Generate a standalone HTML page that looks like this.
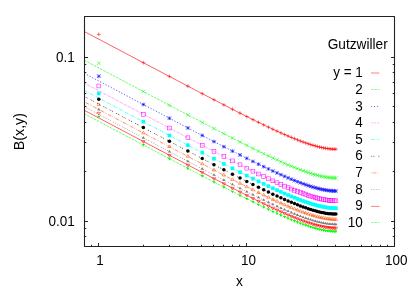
<!DOCTYPE html>
<html><head><meta charset="utf-8"><title>Gutzwiller B(x,y)</title>
<style>html,body{margin:0;padding:0;background:#fff;overflow:hidden}body{width:415px;height:291px;position:relative;font-family:"Liberation Sans",sans-serif}</style></head>
<body>
<svg width="415" height="291" viewBox="0 0 415 291" style="position:absolute;left:0;top:0">
<rect width="415" height="291" fill="#fff"/>
<g><path d="M96.90 34.38H100.70M98.80 32.48V36.28" stroke="#ff0000" stroke-width="0.55" fill="none"/><path d="M141.45 62.71H145.25M143.35 60.81V64.61" stroke="#ff0000" stroke-width="0.55" fill="none"/><path d="M167.51 76.44H171.31M169.41 74.54V78.34" stroke="#ff0000" stroke-width="0.55" fill="none"/><path d="M186.00 86.16H189.80M187.90 84.26V88.06" stroke="#ff0000" stroke-width="0.55" fill="none"/><path d="M200.35 93.66H204.15M202.25 91.76V95.56" stroke="#ff0000" stroke-width="0.55" fill="none"/><path d="M212.07 99.76H215.87M213.97 97.86V101.66" stroke="#ff0000" stroke-width="0.55" fill="none"/><path d="M221.97 104.89H225.77M223.87 102.99V106.79" stroke="#ff0000" stroke-width="0.55" fill="none"/><path d="M230.56 109.29H234.36M232.46 107.39V111.19" stroke="#ff0000" stroke-width="0.55" fill="none"/><path d="M238.13 113.15H241.93M240.03 111.25V115.05" stroke="#ff0000" stroke-width="0.55" fill="none"/><path d="M244.90 116.56H248.70M246.80 114.66V118.46" stroke="#ff0000" stroke-width="0.55" fill="none"/><path d="M251.03 119.61H254.83M252.93 117.71V121.51" stroke="#ff0000" stroke-width="0.55" fill="none"/><path d="M256.62 122.37H260.42M258.52 120.47V124.27" stroke="#ff0000" stroke-width="0.55" fill="none"/><path d="M261.76 124.87H265.56M263.66 122.97V126.77" stroke="#ff0000" stroke-width="0.55" fill="none"/><path d="M266.53 127.14H270.33M268.43 125.24V129.04" stroke="#ff0000" stroke-width="0.55" fill="none"/><path d="M270.96 129.23H274.76M272.86 127.33V131.13" stroke="#ff0000" stroke-width="0.55" fill="none"/><path d="M275.11 131.14H278.91M277.01 129.24V133.04" stroke="#ff0000" stroke-width="0.55" fill="none"/><path d="M279.01 132.91H282.81M280.91 131.01V134.81" stroke="#ff0000" stroke-width="0.55" fill="none"/><path d="M282.68 134.54H286.48M284.58 132.64V136.44" stroke="#ff0000" stroke-width="0.55" fill="none"/><path d="M286.16 136.04H289.96M288.06 134.14V137.94" stroke="#ff0000" stroke-width="0.55" fill="none"/><path d="M289.45 137.43H293.25M291.35 135.53V139.33" stroke="#ff0000" stroke-width="0.55" fill="none"/><path d="M292.59 138.71H296.39M294.49 136.81V140.61" stroke="#ff0000" stroke-width="0.55" fill="none"/><path d="M295.58 139.90H299.38M297.48 138.00V141.80" stroke="#ff0000" stroke-width="0.55" fill="none"/><path d="M298.44 140.99H302.24M300.34 139.09V142.89" stroke="#ff0000" stroke-width="0.55" fill="none"/><path d="M301.17 142.00H304.97M303.07 140.10V143.90" stroke="#ff0000" stroke-width="0.55" fill="none"/><path d="M303.80 142.93H307.60M305.70 141.03V144.83" stroke="#ff0000" stroke-width="0.55" fill="none"/><path d="M306.32 143.79H310.12M308.22 141.89V145.69" stroke="#ff0000" stroke-width="0.55" fill="none"/><path d="M308.74 144.57H312.54M310.64 142.67V146.47" stroke="#ff0000" stroke-width="0.55" fill="none"/><path d="M311.08 145.28H314.88M312.98 143.38V147.18" stroke="#ff0000" stroke-width="0.55" fill="none"/><path d="M313.33 145.93H317.13M315.23 144.03V147.83" stroke="#ff0000" stroke-width="0.55" fill="none"/><path d="M315.51 146.51H319.31M317.41 144.61V148.41" stroke="#ff0000" stroke-width="0.55" fill="none"/><path d="M317.62 147.04H321.42M319.52 145.14V148.94" stroke="#ff0000" stroke-width="0.55" fill="none"/><path d="M319.66 147.50H323.46M321.56 145.60V149.40" stroke="#ff0000" stroke-width="0.55" fill="none"/><path d="M321.64 147.90H325.44M323.54 146.00V149.80" stroke="#ff0000" stroke-width="0.55" fill="none"/><path d="M323.56 148.25H327.36M325.46 146.35V150.15" stroke="#ff0000" stroke-width="0.55" fill="none"/><path d="M325.42 148.54H329.22M327.32 146.64V150.44" stroke="#ff0000" stroke-width="0.55" fill="none"/><path d="M327.23 148.78H331.03M329.13 146.88V150.68" stroke="#ff0000" stroke-width="0.55" fill="none"/><path d="M328.99 148.97H332.79M330.89 147.07V150.87" stroke="#ff0000" stroke-width="0.55" fill="none"/><path d="M330.71 149.10H334.51M332.61 147.20V151.00" stroke="#ff0000" stroke-width="0.55" fill="none"/><path d="M332.38 149.18H336.18M334.28 147.28V151.08" stroke="#ff0000" stroke-width="0.55" fill="none"/><path d="M334.00 149.20H337.80M335.90 147.30V151.10" stroke="#ff0000" stroke-width="0.55" fill="none"/></g>
<polyline points="84.16,31.60 86.55,32.71 88.65,33.81 90.74,34.92 92.84,36.03 94.93,37.14 97.03,38.24 99.13,39.35 101.22,40.46 103.32,41.57 105.41,42.67 107.51,43.78 109.60,44.89 111.70,45.99 113.79,47.10 115.89,48.21 117.98,49.32 120.08,50.42 122.17,51.53 124.27,52.64 126.37,53.74 128.46,54.85 130.56,55.96 132.65,57.06 134.75,58.17 136.84,59.27 138.94,60.38 141.03,61.49 143.13,62.59 145.22,63.70 147.32,64.80 149.41,65.91 151.51,67.01 153.61,68.12 155.70,69.22 157.80,70.33 159.89,71.43 161.99,72.53 164.08,73.64 166.18,74.74 168.27,75.84 170.37,76.95 172.46,78.05 174.56,79.15 176.65,80.25 178.75,81.35 180.85,82.46 182.94,83.56 185.04,84.66 187.13,85.75 189.23,86.85 191.32,87.95 193.42,89.05 195.51,90.15 197.61,91.24 199.70,92.34 201.80,93.43 203.89,94.52 205.99,95.62 208.09,96.71 210.18,97.80 212.28,98.89 214.37,99.97 216.47,101.06 218.56,102.15 220.66,103.23 222.75,104.31 224.85,105.39 226.94,106.47 229.04,107.54 231.14,108.62 233.23,109.69 235.33,110.76 237.42,111.83 239.52,112.89 241.61,113.95 243.71,115.01 245.80,116.06 247.90,117.11 249.99,118.16 252.09,119.20 254.18,120.24 256.28,121.27 258.38,122.30 260.47,123.32 262.57,124.34 264.66,125.35 266.76,126.35 268.85,127.35 270.95,128.33 273.04,129.31 275.14,130.29 277.23,131.25 279.33,132.20 281.42,133.14 283.52,134.07 285.62,134.99 287.71,135.89 289.81,136.78 291.90,137.65 294.00,138.51 296.09,139.35 298.19,140.17 300.28,140.97 302.38,141.75 304.47,142.50 306.57,143.23 308.66,143.93 310.76,144.61 312.86,145.25 314.95,145.85 317.05,146.42 319.14,146.94 321.24,147.43 323.33,147.86 325.43,148.25 327.52,148.57 329.62,148.84 331.71,149.04 333.81,149.16 335.90,149.20" fill="none" stroke="#ff0000" stroke-width="0.65"/>
<g><path d="M97.00 61.38L100.60 64.98M97.00 64.98L100.60 61.38" stroke="#00ff00" stroke-width="0.55" fill="none"/><path d="M141.55 89.71L145.15 93.31M141.55 93.31L145.15 89.71" stroke="#00ff00" stroke-width="0.55" fill="none"/><path d="M167.61 103.44L171.21 107.04M167.61 107.04L171.21 103.44" stroke="#00ff00" stroke-width="0.55" fill="none"/><path d="M186.10 113.16L189.70 116.76M186.10 116.76L189.70 113.16" stroke="#00ff00" stroke-width="0.55" fill="none"/><path d="M200.45 120.66L204.05 124.26M200.45 124.26L204.05 120.66" stroke="#00ff00" stroke-width="0.55" fill="none"/><path d="M212.17 126.76L215.77 130.36M212.17 130.36L215.77 126.76" stroke="#00ff00" stroke-width="0.55" fill="none"/><path d="M222.07 131.89L225.67 135.49M222.07 135.49L225.67 131.89" stroke="#00ff00" stroke-width="0.55" fill="none"/><path d="M230.66 136.29L234.26 139.89M230.66 139.89L234.26 136.29" stroke="#00ff00" stroke-width="0.55" fill="none"/><path d="M238.23 140.15L241.83 143.75M238.23 143.75L241.83 140.15" stroke="#00ff00" stroke-width="0.55" fill="none"/><path d="M245.00 143.56L248.60 147.16M245.00 147.16L248.60 143.56" stroke="#00ff00" stroke-width="0.55" fill="none"/><path d="M251.13 146.61L254.73 150.21M251.13 150.21L254.73 146.61" stroke="#00ff00" stroke-width="0.55" fill="none"/><path d="M256.72 149.37L260.32 152.97M256.72 152.97L260.32 149.37" stroke="#00ff00" stroke-width="0.55" fill="none"/><path d="M261.86 151.87L265.46 155.47M261.86 155.47L265.46 151.87" stroke="#00ff00" stroke-width="0.55" fill="none"/><path d="M266.63 154.14L270.23 157.74M266.63 157.74L270.23 154.14" stroke="#00ff00" stroke-width="0.55" fill="none"/><path d="M271.06 156.23L274.66 159.83M271.06 159.83L274.66 156.23" stroke="#00ff00" stroke-width="0.55" fill="none"/><path d="M275.21 158.14L278.81 161.74M275.21 161.74L278.81 158.14" stroke="#00ff00" stroke-width="0.55" fill="none"/><path d="M279.11 159.91L282.71 163.51M279.11 163.51L282.71 159.91" stroke="#00ff00" stroke-width="0.55" fill="none"/><path d="M282.78 161.54L286.38 165.14M282.78 165.14L286.38 161.54" stroke="#00ff00" stroke-width="0.55" fill="none"/><path d="M286.26 163.04L289.86 166.64M286.26 166.64L289.86 163.04" stroke="#00ff00" stroke-width="0.55" fill="none"/><path d="M289.55 164.43L293.15 168.03M289.55 168.03L293.15 164.43" stroke="#00ff00" stroke-width="0.55" fill="none"/><path d="M292.69 165.71L296.29 169.31M292.69 169.31L296.29 165.71" stroke="#00ff00" stroke-width="0.55" fill="none"/><path d="M295.68 166.90L299.28 170.50M295.68 170.50L299.28 166.90" stroke="#00ff00" stroke-width="0.55" fill="none"/><path d="M298.54 167.99L302.14 171.59M298.54 171.59L302.14 167.99" stroke="#00ff00" stroke-width="0.55" fill="none"/><path d="M301.27 169.00L304.87 172.60M301.27 172.60L304.87 169.00" stroke="#00ff00" stroke-width="0.55" fill="none"/><path d="M303.90 169.93L307.50 173.53M303.90 173.53L307.50 169.93" stroke="#00ff00" stroke-width="0.55" fill="none"/><path d="M306.42 170.79L310.02 174.39M306.42 174.39L310.02 170.79" stroke="#00ff00" stroke-width="0.55" fill="none"/><path d="M308.84 171.57L312.44 175.17M308.84 175.17L312.44 171.57" stroke="#00ff00" stroke-width="0.55" fill="none"/><path d="M311.18 172.28L314.78 175.88M311.18 175.88L314.78 172.28" stroke="#00ff00" stroke-width="0.55" fill="none"/><path d="M313.43 172.93L317.03 176.53M313.43 176.53L317.03 172.93" stroke="#00ff00" stroke-width="0.55" fill="none"/><path d="M315.61 173.51L319.21 177.11M315.61 177.11L319.21 173.51" stroke="#00ff00" stroke-width="0.55" fill="none"/><path d="M317.72 174.04L321.32 177.64M317.72 177.64L321.32 174.04" stroke="#00ff00" stroke-width="0.55" fill="none"/><path d="M319.76 174.50L323.36 178.10M319.76 178.10L323.36 174.50" stroke="#00ff00" stroke-width="0.55" fill="none"/><path d="M321.74 174.90L325.34 178.50M321.74 178.50L325.34 174.90" stroke="#00ff00" stroke-width="0.55" fill="none"/><path d="M323.66 175.25L327.26 178.85M323.66 178.85L327.26 175.25" stroke="#00ff00" stroke-width="0.55" fill="none"/><path d="M325.52 175.54L329.12 179.14M325.52 179.14L329.12 175.54" stroke="#00ff00" stroke-width="0.55" fill="none"/><path d="M327.33 175.78L330.93 179.38M327.33 179.38L330.93 175.78" stroke="#00ff00" stroke-width="0.55" fill="none"/><path d="M329.09 175.97L332.69 179.57M329.09 179.57L332.69 175.97" stroke="#00ff00" stroke-width="0.55" fill="none"/><path d="M330.81 176.10L334.41 179.70M330.81 179.70L334.41 176.10" stroke="#00ff00" stroke-width="0.55" fill="none"/><path d="M332.48 176.18L336.08 179.78M332.48 179.78L336.08 176.18" stroke="#00ff00" stroke-width="0.55" fill="none"/><path d="M334.10 176.20L337.70 179.80M334.10 179.80L337.70 176.20" stroke="#00ff00" stroke-width="0.55" fill="none"/></g>
<polyline points="84.16,60.40 86.55,61.51 88.65,62.61 90.74,63.72 92.84,64.83 94.93,65.94 97.03,67.04 99.13,68.15 101.22,69.26 103.32,70.37 105.41,71.47 107.51,72.58 109.60,73.69 111.70,74.79 113.79,75.90 115.89,77.01 117.98,78.12 120.08,79.22 122.17,80.33 124.27,81.44 126.37,82.54 128.46,83.65 130.56,84.76 132.65,85.86 134.75,86.97 136.84,88.07 138.94,89.18 141.03,90.29 143.13,91.39 145.22,92.50 147.32,93.60 149.41,94.71 151.51,95.81 153.61,96.92 155.70,98.02 157.80,99.13 159.89,100.23 161.99,101.33 164.08,102.44 166.18,103.54 168.27,104.64 170.37,105.75 172.46,106.85 174.56,107.95 176.65,109.05 178.75,110.15 180.85,111.26 182.94,112.36 185.04,113.46 187.13,114.55 189.23,115.65 191.32,116.75 193.42,117.85 195.51,118.95 197.61,120.04 199.70,121.14 201.80,122.23 203.89,123.32 205.99,124.42 208.09,125.51 210.18,126.60 212.28,127.69 214.37,128.77 216.47,129.86 218.56,130.95 220.66,132.03 222.75,133.11 224.85,134.19 226.94,135.27 229.04,136.34 231.14,137.42 233.23,138.49 235.33,139.56 237.42,140.63 239.52,141.69 241.61,142.75 243.71,143.81 245.80,144.86 247.90,145.91 249.99,146.96 252.09,148.00 254.18,149.04 256.28,150.07 258.38,151.10 260.47,152.12 262.57,153.14 264.66,154.15 266.76,155.15 268.85,156.15 270.95,157.13 273.04,158.11 275.14,159.09 277.23,160.05 279.33,161.00 281.42,161.94 283.52,162.87 285.62,163.79 287.71,164.69 289.81,165.58 291.90,166.45 294.00,167.31 296.09,168.15 298.19,168.97 300.28,169.77 302.38,170.55 304.47,171.30 306.57,172.03 308.66,172.73 310.76,173.41 312.86,174.05 314.95,174.65 317.05,175.22 319.14,175.74 321.24,176.23 323.33,176.66 325.43,177.05 327.52,177.37 329.62,177.64 331.71,177.84 333.81,177.96 335.90,178.00" fill="none" stroke="#00ff00" stroke-width="0.65" stroke-dasharray="2.40 1.20"/>
<g><path d="M97.00 76.18H100.60M98.80 74.38V77.98M97.00 74.38L100.60 77.98M97.00 77.98L100.60 74.38" stroke="#0000ff" stroke-width="0.55" fill="none"/><path d="M141.55 104.51H145.15M143.35 102.71V106.31M141.55 102.71L145.15 106.31M141.55 106.31L145.15 102.71" stroke="#0000ff" stroke-width="0.55" fill="none"/><path d="M167.61 118.24H171.21M169.41 116.44V120.04M167.61 116.44L171.21 120.04M167.61 120.04L171.21 116.44" stroke="#0000ff" stroke-width="0.55" fill="none"/><path d="M186.10 127.96H189.70M187.90 126.16V129.76M186.10 126.16L189.70 129.76M186.10 129.76L189.70 126.16" stroke="#0000ff" stroke-width="0.55" fill="none"/><path d="M200.45 135.46H204.05M202.25 133.66V137.26M200.45 133.66L204.05 137.26M200.45 137.26L204.05 133.66" stroke="#0000ff" stroke-width="0.55" fill="none"/><path d="M212.17 141.56H215.77M213.97 139.76V143.36M212.17 139.76L215.77 143.36M212.17 143.36L215.77 139.76" stroke="#0000ff" stroke-width="0.55" fill="none"/><path d="M222.07 146.69H225.67M223.87 144.89V148.49M222.07 144.89L225.67 148.49M222.07 148.49L225.67 144.89" stroke="#0000ff" stroke-width="0.55" fill="none"/><path d="M230.66 151.09H234.26M232.46 149.29V152.89M230.66 149.29L234.26 152.89M230.66 152.89L234.26 149.29" stroke="#0000ff" stroke-width="0.55" fill="none"/><path d="M238.23 154.95H241.83M240.03 153.15V156.75M238.23 153.15L241.83 156.75M238.23 156.75L241.83 153.15" stroke="#0000ff" stroke-width="0.55" fill="none"/><path d="M245.00 158.36H248.60M246.80 156.56V160.16M245.00 156.56L248.60 160.16M245.00 160.16L248.60 156.56" stroke="#0000ff" stroke-width="0.55" fill="none"/><path d="M251.13 161.41H254.73M252.93 159.61V163.21M251.13 159.61L254.73 163.21M251.13 163.21L254.73 159.61" stroke="#0000ff" stroke-width="0.55" fill="none"/><path d="M256.72 164.17H260.32M258.52 162.37V165.97M256.72 162.37L260.32 165.97M256.72 165.97L260.32 162.37" stroke="#0000ff" stroke-width="0.55" fill="none"/><path d="M261.86 166.67H265.46M263.66 164.87V168.47M261.86 164.87L265.46 168.47M261.86 168.47L265.46 164.87" stroke="#0000ff" stroke-width="0.55" fill="none"/><path d="M266.63 168.94H270.23M268.43 167.14V170.74M266.63 167.14L270.23 170.74M266.63 170.74L270.23 167.14" stroke="#0000ff" stroke-width="0.55" fill="none"/><path d="M271.06 171.03H274.66M272.86 169.23V172.83M271.06 169.23L274.66 172.83M271.06 172.83L274.66 169.23" stroke="#0000ff" stroke-width="0.55" fill="none"/><path d="M275.21 172.94H278.81M277.01 171.14V174.74M275.21 171.14L278.81 174.74M275.21 174.74L278.81 171.14" stroke="#0000ff" stroke-width="0.55" fill="none"/><path d="M279.11 174.71H282.71M280.91 172.91V176.51M279.11 172.91L282.71 176.51M279.11 176.51L282.71 172.91" stroke="#0000ff" stroke-width="0.55" fill="none"/><path d="M282.78 176.34H286.38M284.58 174.54V178.14M282.78 174.54L286.38 178.14M282.78 178.14L286.38 174.54" stroke="#0000ff" stroke-width="0.55" fill="none"/><path d="M286.26 177.84H289.86M288.06 176.04V179.64M286.26 176.04L289.86 179.64M286.26 179.64L289.86 176.04" stroke="#0000ff" stroke-width="0.55" fill="none"/><path d="M289.55 179.23H293.15M291.35 177.43V181.03M289.55 177.43L293.15 181.03M289.55 181.03L293.15 177.43" stroke="#0000ff" stroke-width="0.55" fill="none"/><path d="M292.69 180.51H296.29M294.49 178.71V182.31M292.69 178.71L296.29 182.31M292.69 182.31L296.29 178.71" stroke="#0000ff" stroke-width="0.55" fill="none"/><path d="M295.68 181.70H299.28M297.48 179.90V183.50M295.68 179.90L299.28 183.50M295.68 183.50L299.28 179.90" stroke="#0000ff" stroke-width="0.55" fill="none"/><path d="M298.54 182.79H302.14M300.34 180.99V184.59M298.54 180.99L302.14 184.59M298.54 184.59L302.14 180.99" stroke="#0000ff" stroke-width="0.55" fill="none"/><path d="M301.27 183.80H304.87M303.07 182.00V185.60M301.27 182.00L304.87 185.60M301.27 185.60L304.87 182.00" stroke="#0000ff" stroke-width="0.55" fill="none"/><path d="M303.90 184.73H307.50M305.70 182.93V186.53M303.90 182.93L307.50 186.53M303.90 186.53L307.50 182.93" stroke="#0000ff" stroke-width="0.55" fill="none"/><path d="M306.42 185.59H310.02M308.22 183.79V187.39M306.42 183.79L310.02 187.39M306.42 187.39L310.02 183.79" stroke="#0000ff" stroke-width="0.55" fill="none"/><path d="M308.84 186.37H312.44M310.64 184.57V188.17M308.84 184.57L312.44 188.17M308.84 188.17L312.44 184.57" stroke="#0000ff" stroke-width="0.55" fill="none"/><path d="M311.18 187.08H314.78M312.98 185.28V188.88M311.18 185.28L314.78 188.88M311.18 188.88L314.78 185.28" stroke="#0000ff" stroke-width="0.55" fill="none"/><path d="M313.43 187.73H317.03M315.23 185.93V189.53M313.43 185.93L317.03 189.53M313.43 189.53L317.03 185.93" stroke="#0000ff" stroke-width="0.55" fill="none"/><path d="M315.61 188.31H319.21M317.41 186.51V190.11M315.61 186.51L319.21 190.11M315.61 190.11L319.21 186.51" stroke="#0000ff" stroke-width="0.55" fill="none"/><path d="M317.72 188.84H321.32M319.52 187.04V190.64M317.72 187.04L321.32 190.64M317.72 190.64L321.32 187.04" stroke="#0000ff" stroke-width="0.55" fill="none"/><path d="M319.76 189.30H323.36M321.56 187.50V191.10M319.76 187.50L323.36 191.10M319.76 191.10L323.36 187.50" stroke="#0000ff" stroke-width="0.55" fill="none"/><path d="M321.74 189.70H325.34M323.54 187.90V191.50M321.74 187.90L325.34 191.50M321.74 191.50L325.34 187.90" stroke="#0000ff" stroke-width="0.55" fill="none"/><path d="M323.66 190.05H327.26M325.46 188.25V191.85M323.66 188.25L327.26 191.85M323.66 191.85L327.26 188.25" stroke="#0000ff" stroke-width="0.55" fill="none"/><path d="M325.52 190.34H329.12M327.32 188.54V192.14M325.52 188.54L329.12 192.14M325.52 192.14L329.12 188.54" stroke="#0000ff" stroke-width="0.55" fill="none"/><path d="M327.33 190.58H330.93M329.13 188.78V192.38M327.33 188.78L330.93 192.38M327.33 192.38L330.93 188.78" stroke="#0000ff" stroke-width="0.55" fill="none"/><path d="M329.09 190.77H332.69M330.89 188.97V192.57M329.09 188.97L332.69 192.57M329.09 192.57L332.69 188.97" stroke="#0000ff" stroke-width="0.55" fill="none"/><path d="M330.81 190.90H334.41M332.61 189.10V192.70M330.81 189.10L334.41 192.70M330.81 192.70L334.41 189.10" stroke="#0000ff" stroke-width="0.55" fill="none"/><path d="M332.48 190.98H336.08M334.28 189.18V192.78M332.48 189.18L336.08 192.78M332.48 192.78L336.08 189.18" stroke="#0000ff" stroke-width="0.55" fill="none"/><path d="M334.10 191.00H337.70M335.90 189.20V192.80M334.10 189.20L337.70 192.80M334.10 192.80L337.70 189.20" stroke="#0000ff" stroke-width="0.55" fill="none"/></g>
<polyline points="84.16,73.40 86.55,74.51 88.65,75.61 90.74,76.72 92.84,77.83 94.93,78.94 97.03,80.04 99.13,81.15 101.22,82.26 103.32,83.37 105.41,84.47 107.51,85.58 109.60,86.69 111.70,87.79 113.79,88.90 115.89,90.01 117.98,91.12 120.08,92.22 122.17,93.33 124.27,94.44 126.37,95.54 128.46,96.65 130.56,97.76 132.65,98.86 134.75,99.97 136.84,101.07 138.94,102.18 141.03,103.29 143.13,104.39 145.22,105.50 147.32,106.60 149.41,107.71 151.51,108.81 153.61,109.92 155.70,111.02 157.80,112.13 159.89,113.23 161.99,114.33 164.08,115.44 166.18,116.54 168.27,117.64 170.37,118.75 172.46,119.85 174.56,120.95 176.65,122.05 178.75,123.15 180.85,124.26 182.94,125.36 185.04,126.46 187.13,127.55 189.23,128.65 191.32,129.75 193.42,130.85 195.51,131.95 197.61,133.04 199.70,134.14 201.80,135.23 203.89,136.32 205.99,137.42 208.09,138.51 210.18,139.60 212.28,140.69 214.37,141.77 216.47,142.86 218.56,143.95 220.66,145.03 222.75,146.11 224.85,147.19 226.94,148.27 229.04,149.34 231.14,150.42 233.23,151.49 235.33,152.56 237.42,153.63 239.52,154.69 241.61,155.75 243.71,156.81 245.80,157.86 247.90,158.91 249.99,159.96 252.09,161.00 254.18,162.04 256.28,163.07 258.38,164.10 260.47,165.12 262.57,166.14 264.66,167.15 266.76,168.15 268.85,169.15 270.95,170.13 273.04,171.11 275.14,172.09 277.23,173.05 279.33,174.00 281.42,174.94 283.52,175.87 285.62,176.79 287.71,177.69 289.81,178.58 291.90,179.45 294.00,180.31 296.09,181.15 298.19,181.97 300.28,182.77 302.38,183.55 304.47,184.30 306.57,185.03 308.66,185.73 310.76,186.41 312.86,187.05 314.95,187.65 317.05,188.22 319.14,188.74 321.24,189.23 323.33,189.66 325.43,190.05 327.52,190.37 329.62,190.64 331.71,190.84 333.81,190.96 335.90,191.00" fill="none" stroke="#0000ff" stroke-width="0.65" stroke-dasharray="1.20 1.80"/>
<g><rect x="96.90" y="84.08" width="3.80" height="3.80" stroke="#ff00ff" stroke-width="0.55" fill="none"/><rect x="141.45" y="112.41" width="3.80" height="3.80" stroke="#ff00ff" stroke-width="0.55" fill="none"/><rect x="167.51" y="126.14" width="3.80" height="3.80" stroke="#ff00ff" stroke-width="0.55" fill="none"/><rect x="186.00" y="135.86" width="3.80" height="3.80" stroke="#ff00ff" stroke-width="0.55" fill="none"/><rect x="200.35" y="143.36" width="3.80" height="3.80" stroke="#ff00ff" stroke-width="0.55" fill="none"/><rect x="212.07" y="149.46" width="3.80" height="3.80" stroke="#ff00ff" stroke-width="0.55" fill="none"/><rect x="221.97" y="154.59" width="3.80" height="3.80" stroke="#ff00ff" stroke-width="0.55" fill="none"/><rect x="230.56" y="158.99" width="3.80" height="3.80" stroke="#ff00ff" stroke-width="0.55" fill="none"/><rect x="238.13" y="162.85" width="3.80" height="3.80" stroke="#ff00ff" stroke-width="0.55" fill="none"/><rect x="244.90" y="166.26" width="3.80" height="3.80" stroke="#ff00ff" stroke-width="0.55" fill="none"/><rect x="251.03" y="169.31" width="3.80" height="3.80" stroke="#ff00ff" stroke-width="0.55" fill="none"/><rect x="256.62" y="172.07" width="3.80" height="3.80" stroke="#ff00ff" stroke-width="0.55" fill="none"/><rect x="261.76" y="174.57" width="3.80" height="3.80" stroke="#ff00ff" stroke-width="0.55" fill="none"/><rect x="266.53" y="176.84" width="3.80" height="3.80" stroke="#ff00ff" stroke-width="0.55" fill="none"/><rect x="270.96" y="178.93" width="3.80" height="3.80" stroke="#ff00ff" stroke-width="0.55" fill="none"/><rect x="275.11" y="180.84" width="3.80" height="3.80" stroke="#ff00ff" stroke-width="0.55" fill="none"/><rect x="279.01" y="182.61" width="3.80" height="3.80" stroke="#ff00ff" stroke-width="0.55" fill="none"/><rect x="282.68" y="184.24" width="3.80" height="3.80" stroke="#ff00ff" stroke-width="0.55" fill="none"/><rect x="286.16" y="185.74" width="3.80" height="3.80" stroke="#ff00ff" stroke-width="0.55" fill="none"/><rect x="289.45" y="187.13" width="3.80" height="3.80" stroke="#ff00ff" stroke-width="0.55" fill="none"/><rect x="292.59" y="188.41" width="3.80" height="3.80" stroke="#ff00ff" stroke-width="0.55" fill="none"/><rect x="295.58" y="189.60" width="3.80" height="3.80" stroke="#ff00ff" stroke-width="0.55" fill="none"/><rect x="298.44" y="190.69" width="3.80" height="3.80" stroke="#ff00ff" stroke-width="0.55" fill="none"/><rect x="301.17" y="191.70" width="3.80" height="3.80" stroke="#ff00ff" stroke-width="0.55" fill="none"/><rect x="303.80" y="192.63" width="3.80" height="3.80" stroke="#ff00ff" stroke-width="0.55" fill="none"/><rect x="306.32" y="193.49" width="3.80" height="3.80" stroke="#ff00ff" stroke-width="0.55" fill="none"/><rect x="308.74" y="194.27" width="3.80" height="3.80" stroke="#ff00ff" stroke-width="0.55" fill="none"/><rect x="311.08" y="194.98" width="3.80" height="3.80" stroke="#ff00ff" stroke-width="0.55" fill="none"/><rect x="313.33" y="195.63" width="3.80" height="3.80" stroke="#ff00ff" stroke-width="0.55" fill="none"/><rect x="315.51" y="196.21" width="3.80" height="3.80" stroke="#ff00ff" stroke-width="0.55" fill="none"/><rect x="317.62" y="196.74" width="3.80" height="3.80" stroke="#ff00ff" stroke-width="0.55" fill="none"/><rect x="319.66" y="197.20" width="3.80" height="3.80" stroke="#ff00ff" stroke-width="0.55" fill="none"/><rect x="321.64" y="197.60" width="3.80" height="3.80" stroke="#ff00ff" stroke-width="0.55" fill="none"/><rect x="323.56" y="197.95" width="3.80" height="3.80" stroke="#ff00ff" stroke-width="0.55" fill="none"/><rect x="325.42" y="198.24" width="3.80" height="3.80" stroke="#ff00ff" stroke-width="0.55" fill="none"/><rect x="327.23" y="198.48" width="3.80" height="3.80" stroke="#ff00ff" stroke-width="0.55" fill="none"/><rect x="328.99" y="198.67" width="3.80" height="3.80" stroke="#ff00ff" stroke-width="0.55" fill="none"/><rect x="330.71" y="198.80" width="3.80" height="3.80" stroke="#ff00ff" stroke-width="0.55" fill="none"/><rect x="332.38" y="198.88" width="3.80" height="3.80" stroke="#ff00ff" stroke-width="0.55" fill="none"/><rect x="334.00" y="198.90" width="3.80" height="3.80" stroke="#ff00ff" stroke-width="0.55" fill="none"/></g>
<polyline points="84.16,83.20 86.55,84.31 88.65,85.41 90.74,86.52 92.84,87.63 94.93,88.74 97.03,89.84 99.13,90.95 101.22,92.06 103.32,93.17 105.41,94.27 107.51,95.38 109.60,96.49 111.70,97.59 113.79,98.70 115.89,99.81 117.98,100.92 120.08,102.02 122.17,103.13 124.27,104.24 126.37,105.34 128.46,106.45 130.56,107.56 132.65,108.66 134.75,109.77 136.84,110.87 138.94,111.98 141.03,113.09 143.13,114.19 145.22,115.30 147.32,116.40 149.41,117.51 151.51,118.61 153.61,119.72 155.70,120.82 157.80,121.93 159.89,123.03 161.99,124.13 164.08,125.24 166.18,126.34 168.27,127.44 170.37,128.55 172.46,129.65 174.56,130.75 176.65,131.85 178.75,132.95 180.85,134.06 182.94,135.16 185.04,136.26 187.13,137.35 189.23,138.45 191.32,139.55 193.42,140.65 195.51,141.75 197.61,142.84 199.70,143.94 201.80,145.03 203.89,146.12 205.99,147.22 208.09,148.31 210.18,149.40 212.28,150.49 214.37,151.57 216.47,152.66 218.56,153.75 220.66,154.83 222.75,155.91 224.85,156.99 226.94,158.07 229.04,159.14 231.14,160.22 233.23,161.29 235.33,162.36 237.42,163.43 239.52,164.49 241.61,165.55 243.71,166.61 245.80,167.66 247.90,168.71 249.99,169.76 252.09,170.80 254.18,171.84 256.28,172.87 258.38,173.90 260.47,174.92 262.57,175.94 264.66,176.95 266.76,177.95 268.85,178.95 270.95,179.93 273.04,180.91 275.14,181.89 277.23,182.85 279.33,183.80 281.42,184.74 283.52,185.67 285.62,186.59 287.71,187.49 289.81,188.38 291.90,189.25 294.00,190.11 296.09,190.95 298.19,191.77 300.28,192.57 302.38,193.35 304.47,194.10 306.57,194.83 308.66,195.53 310.76,196.21 312.86,196.85 314.95,197.45 317.05,198.02 319.14,198.54 321.24,199.03 323.33,199.46 325.43,199.85 327.52,200.17 329.62,200.44 331.71,200.64 333.81,200.76 335.90,200.80" fill="none" stroke="#ff00ff" stroke-width="0.65" stroke-dasharray="0.60 0.90"/>
<g><rect x="97.00" y="91.58" width="3.60" height="3.60" fill="#00ffff"/><rect x="141.55" y="119.91" width="3.60" height="3.60" fill="#00ffff"/><rect x="167.61" y="133.64" width="3.60" height="3.60" fill="#00ffff"/><rect x="186.10" y="143.36" width="3.60" height="3.60" fill="#00ffff"/><rect x="200.45" y="150.86" width="3.60" height="3.60" fill="#00ffff"/><rect x="212.17" y="156.96" width="3.60" height="3.60" fill="#00ffff"/><rect x="222.07" y="162.09" width="3.60" height="3.60" fill="#00ffff"/><rect x="230.66" y="166.49" width="3.60" height="3.60" fill="#00ffff"/><rect x="238.23" y="170.35" width="3.60" height="3.60" fill="#00ffff"/><rect x="245.00" y="173.76" width="3.60" height="3.60" fill="#00ffff"/><rect x="251.13" y="176.81" width="3.60" height="3.60" fill="#00ffff"/><rect x="256.72" y="179.57" width="3.60" height="3.60" fill="#00ffff"/><rect x="261.86" y="182.07" width="3.60" height="3.60" fill="#00ffff"/><rect x="266.63" y="184.34" width="3.60" height="3.60" fill="#00ffff"/><rect x="271.06" y="186.43" width="3.60" height="3.60" fill="#00ffff"/><rect x="275.21" y="188.34" width="3.60" height="3.60" fill="#00ffff"/><rect x="279.11" y="190.11" width="3.60" height="3.60" fill="#00ffff"/><rect x="282.78" y="191.74" width="3.60" height="3.60" fill="#00ffff"/><rect x="286.26" y="193.24" width="3.60" height="3.60" fill="#00ffff"/><rect x="289.55" y="194.63" width="3.60" height="3.60" fill="#00ffff"/><rect x="292.69" y="195.91" width="3.60" height="3.60" fill="#00ffff"/><rect x="295.68" y="197.10" width="3.60" height="3.60" fill="#00ffff"/><rect x="298.54" y="198.19" width="3.60" height="3.60" fill="#00ffff"/><rect x="301.27" y="199.20" width="3.60" height="3.60" fill="#00ffff"/><rect x="303.90" y="200.13" width="3.60" height="3.60" fill="#00ffff"/><rect x="306.42" y="200.99" width="3.60" height="3.60" fill="#00ffff"/><rect x="308.84" y="201.77" width="3.60" height="3.60" fill="#00ffff"/><rect x="311.18" y="202.48" width="3.60" height="3.60" fill="#00ffff"/><rect x="313.43" y="203.13" width="3.60" height="3.60" fill="#00ffff"/><rect x="315.61" y="203.71" width="3.60" height="3.60" fill="#00ffff"/><rect x="317.72" y="204.24" width="3.60" height="3.60" fill="#00ffff"/><rect x="319.76" y="204.70" width="3.60" height="3.60" fill="#00ffff"/><rect x="321.74" y="205.10" width="3.60" height="3.60" fill="#00ffff"/><rect x="323.66" y="205.45" width="3.60" height="3.60" fill="#00ffff"/><rect x="325.52" y="205.74" width="3.60" height="3.60" fill="#00ffff"/><rect x="327.33" y="205.98" width="3.60" height="3.60" fill="#00ffff"/><rect x="329.09" y="206.17" width="3.60" height="3.60" fill="#00ffff"/><rect x="330.81" y="206.30" width="3.60" height="3.60" fill="#00ffff"/><rect x="332.48" y="206.38" width="3.60" height="3.60" fill="#00ffff"/><rect x="334.10" y="206.40" width="3.60" height="3.60" fill="#00ffff"/></g>
<polyline points="84.16,90.60 86.55,91.71 88.65,92.81 90.74,93.92 92.84,95.03 94.93,96.14 97.03,97.24 99.13,98.35 101.22,99.46 103.32,100.57 105.41,101.67 107.51,102.78 109.60,103.89 111.70,104.99 113.79,106.10 115.89,107.21 117.98,108.32 120.08,109.42 122.17,110.53 124.27,111.64 126.37,112.74 128.46,113.85 130.56,114.96 132.65,116.06 134.75,117.17 136.84,118.27 138.94,119.38 141.03,120.49 143.13,121.59 145.22,122.70 147.32,123.80 149.41,124.91 151.51,126.01 153.61,127.12 155.70,128.22 157.80,129.33 159.89,130.43 161.99,131.53 164.08,132.64 166.18,133.74 168.27,134.84 170.37,135.95 172.46,137.05 174.56,138.15 176.65,139.25 178.75,140.35 180.85,141.46 182.94,142.56 185.04,143.66 187.13,144.75 189.23,145.85 191.32,146.95 193.42,148.05 195.51,149.15 197.61,150.24 199.70,151.34 201.80,152.43 203.89,153.52 205.99,154.62 208.09,155.71 210.18,156.80 212.28,157.89 214.37,158.97 216.47,160.06 218.56,161.15 220.66,162.23 222.75,163.31 224.85,164.39 226.94,165.47 229.04,166.54 231.14,167.62 233.23,168.69 235.33,169.76 237.42,170.83 239.52,171.89 241.61,172.95 243.71,174.01 245.80,175.06 247.90,176.11 249.99,177.16 252.09,178.20 254.18,179.24 256.28,180.27 258.38,181.30 260.47,182.32 262.57,183.34 264.66,184.35 266.76,185.35 268.85,186.35 270.95,187.33 273.04,188.31 275.14,189.29 277.23,190.25 279.33,191.20 281.42,192.14 283.52,193.07 285.62,193.99 287.71,194.89 289.81,195.78 291.90,196.65 294.00,197.51 296.09,198.35 298.19,199.17 300.28,199.97 302.38,200.75 304.47,201.50 306.57,202.23 308.66,202.93 310.76,203.61 312.86,204.25 314.95,204.85 317.05,205.42 319.14,205.94 321.24,206.43 323.33,206.86 325.43,207.25 327.52,207.57 329.62,207.84 331.71,208.04 333.81,208.16 335.90,208.20" fill="none" stroke="#00ffff" stroke-width="0.65" stroke-dasharray="3.60 1.20 0.60 1.20"/>
<g><circle cx="98.80" cy="99.28" r="1.75" fill="#000000"/><circle cx="143.35" cy="127.61" r="1.75" fill="#000000"/><circle cx="169.41" cy="141.34" r="1.75" fill="#000000"/><circle cx="187.90" cy="151.06" r="1.75" fill="#000000"/><circle cx="202.25" cy="158.56" r="1.75" fill="#000000"/><circle cx="213.97" cy="164.66" r="1.75" fill="#000000"/><circle cx="223.87" cy="169.79" r="1.75" fill="#000000"/><circle cx="232.46" cy="174.19" r="1.75" fill="#000000"/><circle cx="240.03" cy="178.05" r="1.75" fill="#000000"/><circle cx="246.80" cy="181.46" r="1.75" fill="#000000"/><circle cx="252.93" cy="184.51" r="1.75" fill="#000000"/><circle cx="258.52" cy="187.27" r="1.75" fill="#000000"/><circle cx="263.66" cy="189.77" r="1.75" fill="#000000"/><circle cx="268.43" cy="192.04" r="1.75" fill="#000000"/><circle cx="272.86" cy="194.13" r="1.75" fill="#000000"/><circle cx="277.01" cy="196.04" r="1.75" fill="#000000"/><circle cx="280.91" cy="197.81" r="1.75" fill="#000000"/><circle cx="284.58" cy="199.44" r="1.75" fill="#000000"/><circle cx="288.06" cy="200.94" r="1.75" fill="#000000"/><circle cx="291.35" cy="202.33" r="1.75" fill="#000000"/><circle cx="294.49" cy="203.61" r="1.75" fill="#000000"/><circle cx="297.48" cy="204.80" r="1.75" fill="#000000"/><circle cx="300.34" cy="205.89" r="1.75" fill="#000000"/><circle cx="303.07" cy="206.90" r="1.75" fill="#000000"/><circle cx="305.70" cy="207.83" r="1.75" fill="#000000"/><circle cx="308.22" cy="208.69" r="1.75" fill="#000000"/><circle cx="310.64" cy="209.47" r="1.75" fill="#000000"/><circle cx="312.98" cy="210.18" r="1.75" fill="#000000"/><circle cx="315.23" cy="210.83" r="1.75" fill="#000000"/><circle cx="317.41" cy="211.41" r="1.75" fill="#000000"/><circle cx="319.52" cy="211.94" r="1.75" fill="#000000"/><circle cx="321.56" cy="212.40" r="1.75" fill="#000000"/><circle cx="323.54" cy="212.80" r="1.75" fill="#000000"/><circle cx="325.46" cy="213.15" r="1.75" fill="#000000"/><circle cx="327.32" cy="213.44" r="1.75" fill="#000000"/><circle cx="329.13" cy="213.68" r="1.75" fill="#000000"/><circle cx="330.89" cy="213.87" r="1.75" fill="#000000"/><circle cx="332.61" cy="214.00" r="1.75" fill="#000000"/><circle cx="334.28" cy="214.08" r="1.75" fill="#000000"/><circle cx="335.90" cy="214.10" r="1.75" fill="#000000"/></g>
<polyline points="84.16,96.50 86.55,97.61 88.65,98.71 90.74,99.82 92.84,100.93 94.93,102.04 97.03,103.14 99.13,104.25 101.22,105.36 103.32,106.47 105.41,107.57 107.51,108.68 109.60,109.79 111.70,110.89 113.79,112.00 115.89,113.11 117.98,114.22 120.08,115.32 122.17,116.43 124.27,117.54 126.37,118.64 128.46,119.75 130.56,120.86 132.65,121.96 134.75,123.07 136.84,124.17 138.94,125.28 141.03,126.39 143.13,127.49 145.22,128.60 147.32,129.70 149.41,130.81 151.51,131.91 153.61,133.02 155.70,134.12 157.80,135.23 159.89,136.33 161.99,137.43 164.08,138.54 166.18,139.64 168.27,140.74 170.37,141.85 172.46,142.95 174.56,144.05 176.65,145.15 178.75,146.25 180.85,147.36 182.94,148.46 185.04,149.56 187.13,150.65 189.23,151.75 191.32,152.85 193.42,153.95 195.51,155.05 197.61,156.14 199.70,157.24 201.80,158.33 203.89,159.42 205.99,160.52 208.09,161.61 210.18,162.70 212.28,163.79 214.37,164.87 216.47,165.96 218.56,167.05 220.66,168.13 222.75,169.21 224.85,170.29 226.94,171.37 229.04,172.44 231.14,173.52 233.23,174.59 235.33,175.66 237.42,176.73 239.52,177.79 241.61,178.85 243.71,179.91 245.80,180.96 247.90,182.01 249.99,183.06 252.09,184.10 254.18,185.14 256.28,186.17 258.38,187.20 260.47,188.22 262.57,189.24 264.66,190.25 266.76,191.25 268.85,192.25 270.95,193.23 273.04,194.21 275.14,195.19 277.23,196.15 279.33,197.10 281.42,198.04 283.52,198.97 285.62,199.89 287.71,200.79 289.81,201.68 291.90,202.55 294.00,203.41 296.09,204.25 298.19,205.07 300.28,205.87 302.38,206.65 304.47,207.40 306.57,208.13 308.66,208.83 310.76,209.51 312.86,210.15 314.95,210.75 317.05,211.32 319.14,211.84 321.24,212.33 323.33,212.76 325.43,213.15 327.52,213.47 329.62,213.74 331.71,213.94 333.81,214.06 335.90,214.10" fill="none" stroke="#000000" stroke-width="0.65" stroke-dasharray="1.20 1.20 1.20 3.60"/>
<g><path d="M98.80 102.78L97.10 105.53H100.50Z" stroke="#ff4d00" stroke-width="0.55" fill="none"/><path d="M143.35 131.11L141.65 133.86H145.05Z" stroke="#ff4d00" stroke-width="0.55" fill="none"/><path d="M169.41 144.84L167.71 147.59H171.11Z" stroke="#ff4d00" stroke-width="0.55" fill="none"/><path d="M187.90 154.56L186.20 157.31H189.60Z" stroke="#ff4d00" stroke-width="0.55" fill="none"/><path d="M202.25 162.06L200.55 164.81H203.95Z" stroke="#ff4d00" stroke-width="0.55" fill="none"/><path d="M213.97 168.16L212.27 170.91H215.67Z" stroke="#ff4d00" stroke-width="0.55" fill="none"/><path d="M223.87 173.28L222.17 176.04H225.57Z" stroke="#ff4d00" stroke-width="0.55" fill="none"/><path d="M232.46 177.69L230.76 180.44H234.16Z" stroke="#ff4d00" stroke-width="0.55" fill="none"/><path d="M240.03 181.54L238.33 184.30H241.73Z" stroke="#ff4d00" stroke-width="0.55" fill="none"/><path d="M246.80 184.96L245.10 187.71H248.50Z" stroke="#ff4d00" stroke-width="0.55" fill="none"/><path d="M252.93 188.01L251.23 190.76H254.63Z" stroke="#ff4d00" stroke-width="0.55" fill="none"/><path d="M258.52 190.76L256.82 193.52H260.22Z" stroke="#ff4d00" stroke-width="0.55" fill="none"/><path d="M263.66 193.26L261.96 196.02H265.36Z" stroke="#ff4d00" stroke-width="0.55" fill="none"/><path d="M268.43 195.54L266.73 198.29H270.13Z" stroke="#ff4d00" stroke-width="0.55" fill="none"/><path d="M272.86 197.63L271.16 200.38H274.56Z" stroke="#ff4d00" stroke-width="0.55" fill="none"/><path d="M277.01 199.54L275.31 202.29H278.71Z" stroke="#ff4d00" stroke-width="0.55" fill="none"/><path d="M280.91 201.30L279.21 204.06H282.61Z" stroke="#ff4d00" stroke-width="0.55" fill="none"/><path d="M284.58 202.93L282.88 205.69H286.28Z" stroke="#ff4d00" stroke-width="0.55" fill="none"/><path d="M288.06 204.43L286.36 207.19H289.76Z" stroke="#ff4d00" stroke-width="0.55" fill="none"/><path d="M291.35 205.82L289.65 208.58H293.05Z" stroke="#ff4d00" stroke-width="0.55" fill="none"/><path d="M294.49 207.11L292.79 209.86H296.19Z" stroke="#ff4d00" stroke-width="0.55" fill="none"/><path d="M297.48 208.29L295.78 211.05H299.18Z" stroke="#ff4d00" stroke-width="0.55" fill="none"/><path d="M300.34 209.39L298.64 212.14H302.04Z" stroke="#ff4d00" stroke-width="0.55" fill="none"/><path d="M303.07 210.40L301.37 213.15H304.77Z" stroke="#ff4d00" stroke-width="0.55" fill="none"/><path d="M305.70 211.33L304.00 214.08H307.40Z" stroke="#ff4d00" stroke-width="0.55" fill="none"/><path d="M308.22 212.18L306.52 214.94H309.92Z" stroke="#ff4d00" stroke-width="0.55" fill="none"/><path d="M310.64 212.96L308.94 215.72H312.34Z" stroke="#ff4d00" stroke-width="0.55" fill="none"/><path d="M312.98 213.68L311.28 216.43H314.68Z" stroke="#ff4d00" stroke-width="0.55" fill="none"/><path d="M315.23 214.33L313.53 217.08H316.93Z" stroke="#ff4d00" stroke-width="0.55" fill="none"/><path d="M317.41 214.91L315.71 217.66H319.11Z" stroke="#ff4d00" stroke-width="0.55" fill="none"/><path d="M319.52 215.43L317.82 218.19H321.22Z" stroke="#ff4d00" stroke-width="0.55" fill="none"/><path d="M321.56 215.89L319.86 218.65H323.26Z" stroke="#ff4d00" stroke-width="0.55" fill="none"/><path d="M323.54 216.30L321.84 219.05H325.24Z" stroke="#ff4d00" stroke-width="0.55" fill="none"/><path d="M325.46 216.65L323.76 219.40H327.16Z" stroke="#ff4d00" stroke-width="0.55" fill="none"/><path d="M327.32 216.94L325.62 219.69H329.02Z" stroke="#ff4d00" stroke-width="0.55" fill="none"/><path d="M329.13 217.18L327.43 219.93H330.83Z" stroke="#ff4d00" stroke-width="0.55" fill="none"/><path d="M330.89 217.36L329.19 220.12H332.59Z" stroke="#ff4d00" stroke-width="0.55" fill="none"/><path d="M332.61 217.49L330.91 220.25H334.31Z" stroke="#ff4d00" stroke-width="0.55" fill="none"/><path d="M334.28 217.57L332.58 220.33H335.98Z" stroke="#ff4d00" stroke-width="0.55" fill="none"/><path d="M335.90 217.60L334.20 220.35H337.60Z" stroke="#ff4d00" stroke-width="0.55" fill="none"/></g>
<polyline points="84.16,101.90 86.55,103.01 88.65,104.11 90.74,105.22 92.84,106.33 94.93,107.44 97.03,108.54 99.13,109.65 101.22,110.76 103.32,111.87 105.41,112.97 107.51,114.08 109.60,115.19 111.70,116.29 113.79,117.40 115.89,118.51 117.98,119.62 120.08,120.72 122.17,121.83 124.27,122.94 126.37,124.04 128.46,125.15 130.56,126.26 132.65,127.36 134.75,128.47 136.84,129.57 138.94,130.68 141.03,131.79 143.13,132.89 145.22,134.00 147.32,135.10 149.41,136.21 151.51,137.31 153.61,138.42 155.70,139.52 157.80,140.63 159.89,141.73 161.99,142.83 164.08,143.94 166.18,145.04 168.27,146.14 170.37,147.25 172.46,148.35 174.56,149.45 176.65,150.55 178.75,151.65 180.85,152.76 182.94,153.86 185.04,154.96 187.13,156.05 189.23,157.15 191.32,158.25 193.42,159.35 195.51,160.45 197.61,161.54 199.70,162.64 201.80,163.73 203.89,164.82 205.99,165.92 208.09,167.01 210.18,168.10 212.28,169.19 214.37,170.27 216.47,171.36 218.56,172.45 220.66,173.53 222.75,174.61 224.85,175.69 226.94,176.77 229.04,177.84 231.14,178.92 233.23,179.99 235.33,181.06 237.42,182.13 239.52,183.19 241.61,184.25 243.71,185.31 245.80,186.36 247.90,187.41 249.99,188.46 252.09,189.50 254.18,190.54 256.28,191.57 258.38,192.60 260.47,193.62 262.57,194.64 264.66,195.65 266.76,196.65 268.85,197.65 270.95,198.63 273.04,199.61 275.14,200.59 277.23,201.55 279.33,202.50 281.42,203.44 283.52,204.37 285.62,205.29 287.71,206.19 289.81,207.08 291.90,207.95 294.00,208.81 296.09,209.65 298.19,210.47 300.28,211.27 302.38,212.05 304.47,212.80 306.57,213.53 308.66,214.23 310.76,214.91 312.86,215.55 314.95,216.15 317.05,216.72 319.14,217.24 321.24,217.73 323.33,218.16 325.43,218.55 327.52,218.87 329.62,219.14 331.71,219.34 333.81,219.46 335.90,219.50" fill="none" stroke="#ff4d00" stroke-width="0.65" stroke-dasharray="0.60 1.20 3.60 1.20 0.60 1.20"/>
<g><path d="M98.80 107.79L97.20 110.38H100.40Z" fill="#808080"/><path d="M143.35 136.12L141.75 138.71H144.95Z" fill="#808080"/><path d="M169.41 149.85L167.81 152.44H171.01Z" fill="#808080"/><path d="M187.90 159.57L186.30 162.16H189.50Z" fill="#808080"/><path d="M202.25 167.07L200.65 169.66H203.85Z" fill="#808080"/><path d="M213.97 173.17L212.37 175.76H215.57Z" fill="#808080"/><path d="M223.87 178.30L222.27 180.89H225.47Z" fill="#808080"/><path d="M232.46 182.70L230.86 185.29H234.06Z" fill="#808080"/><path d="M240.03 186.56L238.43 189.15H241.63Z" fill="#808080"/><path d="M246.80 189.97L245.20 192.56H248.40Z" fill="#808080"/><path d="M252.93 193.02L251.33 195.61H254.53Z" fill="#808080"/><path d="M258.52 195.78L256.92 198.37H260.12Z" fill="#808080"/><path d="M263.66 198.27L262.06 200.87H265.26Z" fill="#808080"/><path d="M268.43 200.55L266.83 203.14H270.03Z" fill="#808080"/><path d="M272.86 202.64L271.26 205.23H274.46Z" fill="#808080"/><path d="M277.01 204.55L275.41 207.14H278.61Z" fill="#808080"/><path d="M280.91 206.32L279.31 208.91H282.51Z" fill="#808080"/><path d="M284.58 207.94L282.98 210.54H286.18Z" fill="#808080"/><path d="M288.06 209.45L286.46 212.04H289.66Z" fill="#808080"/><path d="M291.35 210.83L289.75 213.43H292.95Z" fill="#808080"/><path d="M294.49 212.12L292.89 214.71H296.09Z" fill="#808080"/><path d="M297.48 213.30L295.88 215.90H299.08Z" fill="#808080"/><path d="M300.34 214.40L298.74 216.99H301.94Z" fill="#808080"/><path d="M303.07 215.41L301.47 218.00H304.67Z" fill="#808080"/><path d="M305.70 216.34L304.10 218.93H307.30Z" fill="#808080"/><path d="M308.22 217.19L306.62 219.79H309.82Z" fill="#808080"/><path d="M310.64 217.98L309.04 220.57H312.24Z" fill="#808080"/><path d="M312.98 218.69L311.38 221.28H314.58Z" fill="#808080"/><path d="M315.23 219.34L313.63 221.93H316.83Z" fill="#808080"/><path d="M317.41 219.92L315.81 222.51H319.01Z" fill="#808080"/><path d="M319.52 220.44L317.92 223.04H321.12Z" fill="#808080"/><path d="M321.56 220.91L319.96 223.50H323.16Z" fill="#808080"/><path d="M323.54 221.31L321.94 223.90H325.14Z" fill="#808080"/><path d="M325.46 221.66L323.86 224.25H327.06Z" fill="#808080"/><path d="M327.32 221.95L325.72 224.54H328.92Z" fill="#808080"/><path d="M329.13 222.19L327.53 224.78H330.73Z" fill="#808080"/><path d="M330.89 222.38L329.29 224.97H332.49Z" fill="#808080"/><path d="M332.61 222.51L331.01 225.10H334.21Z" fill="#808080"/><path d="M334.28 222.59L332.68 225.18H335.88Z" fill="#808080"/><path d="M335.90 222.61L334.30 225.20H337.50Z" fill="#808080"/></g>
<polyline points="84.16,106.80 86.55,107.91 88.65,109.01 90.74,110.12 92.84,111.23 94.93,112.34 97.03,113.44 99.13,114.55 101.22,115.66 103.32,116.77 105.41,117.87 107.51,118.98 109.60,120.09 111.70,121.19 113.79,122.30 115.89,123.41 117.98,124.52 120.08,125.62 122.17,126.73 124.27,127.84 126.37,128.94 128.46,130.05 130.56,131.16 132.65,132.26 134.75,133.37 136.84,134.47 138.94,135.58 141.03,136.69 143.13,137.79 145.22,138.90 147.32,140.00 149.41,141.11 151.51,142.21 153.61,143.32 155.70,144.42 157.80,145.53 159.89,146.63 161.99,147.73 164.08,148.84 166.18,149.94 168.27,151.04 170.37,152.15 172.46,153.25 174.56,154.35 176.65,155.45 178.75,156.55 180.85,157.66 182.94,158.76 185.04,159.86 187.13,160.95 189.23,162.05 191.32,163.15 193.42,164.25 195.51,165.35 197.61,166.44 199.70,167.54 201.80,168.63 203.89,169.72 205.99,170.82 208.09,171.91 210.18,173.00 212.28,174.09 214.37,175.17 216.47,176.26 218.56,177.35 220.66,178.43 222.75,179.51 224.85,180.59 226.94,181.67 229.04,182.74 231.14,183.82 233.23,184.89 235.33,185.96 237.42,187.03 239.52,188.09 241.61,189.15 243.71,190.21 245.80,191.26 247.90,192.31 249.99,193.36 252.09,194.40 254.18,195.44 256.28,196.47 258.38,197.50 260.47,198.52 262.57,199.54 264.66,200.55 266.76,201.55 268.85,202.55 270.95,203.53 273.04,204.51 275.14,205.49 277.23,206.45 279.33,207.40 281.42,208.34 283.52,209.27 285.62,210.19 287.71,211.09 289.81,211.98 291.90,212.85 294.00,213.71 296.09,214.55 298.19,215.37 300.28,216.17 302.38,216.95 304.47,217.70 306.57,218.43 308.66,219.13 310.76,219.81 312.86,220.45 314.95,221.05 317.05,221.62 319.14,222.14 321.24,222.63 323.33,223.06 325.43,223.45 327.52,223.77 329.62,224.04 331.71,224.24 333.81,224.36 335.90,224.40" fill="none" stroke="#808080" stroke-width="0.65" stroke-dasharray="1.20 1.20 1.20 1.20 1.20 1.20 1.20 2.40"/>
<g><path d="M98.80 115.08L97.10 112.33H100.50Z" stroke="#ff0000" stroke-width="0.55" fill="none"/><path d="M143.35 143.41L141.65 140.66H145.05Z" stroke="#ff0000" stroke-width="0.55" fill="none"/><path d="M169.41 157.15L167.71 154.39H171.11Z" stroke="#ff0000" stroke-width="0.55" fill="none"/><path d="M187.90 166.86L186.20 164.11H189.60Z" stroke="#ff0000" stroke-width="0.55" fill="none"/><path d="M202.25 174.37L200.55 171.61H203.95Z" stroke="#ff0000" stroke-width="0.55" fill="none"/><path d="M213.97 180.47L212.27 177.71H215.67Z" stroke="#ff0000" stroke-width="0.55" fill="none"/><path d="M223.87 185.59L222.17 182.84H225.57Z" stroke="#ff0000" stroke-width="0.55" fill="none"/><path d="M232.46 190.00L230.76 187.24H234.16Z" stroke="#ff0000" stroke-width="0.55" fill="none"/><path d="M240.03 193.85L238.33 191.10H241.73Z" stroke="#ff0000" stroke-width="0.55" fill="none"/><path d="M246.80 197.26L245.10 194.51H248.50Z" stroke="#ff0000" stroke-width="0.55" fill="none"/><path d="M252.93 200.32L251.23 197.56H254.63Z" stroke="#ff0000" stroke-width="0.55" fill="none"/><path d="M258.52 203.07L256.82 200.32H260.22Z" stroke="#ff0000" stroke-width="0.55" fill="none"/><path d="M263.66 205.57L261.96 202.82H265.36Z" stroke="#ff0000" stroke-width="0.55" fill="none"/><path d="M268.43 207.85L266.73 205.09H270.13Z" stroke="#ff0000" stroke-width="0.55" fill="none"/><path d="M272.86 209.93L271.16 207.18H274.56Z" stroke="#ff0000" stroke-width="0.55" fill="none"/><path d="M277.01 211.85L275.31 209.09H278.71Z" stroke="#ff0000" stroke-width="0.55" fill="none"/><path d="M280.91 213.61L279.21 210.86H282.61Z" stroke="#ff0000" stroke-width="0.55" fill="none"/><path d="M284.58 215.24L282.88 212.49H286.28Z" stroke="#ff0000" stroke-width="0.55" fill="none"/><path d="M288.06 216.74L286.36 213.99H289.76Z" stroke="#ff0000" stroke-width="0.55" fill="none"/><path d="M291.35 218.13L289.65 215.38H293.05Z" stroke="#ff0000" stroke-width="0.55" fill="none"/><path d="M294.49 219.41L292.79 216.66H296.19Z" stroke="#ff0000" stroke-width="0.55" fill="none"/><path d="M297.48 220.60L295.78 217.85H299.18Z" stroke="#ff0000" stroke-width="0.55" fill="none"/><path d="M300.34 221.69L298.64 218.94H302.04Z" stroke="#ff0000" stroke-width="0.55" fill="none"/><path d="M303.07 222.71L301.37 219.95H304.77Z" stroke="#ff0000" stroke-width="0.55" fill="none"/><path d="M305.70 223.64L304.00 220.88H307.40Z" stroke="#ff0000" stroke-width="0.55" fill="none"/><path d="M308.22 224.49L306.52 221.74H309.92Z" stroke="#ff0000" stroke-width="0.55" fill="none"/><path d="M310.64 225.27L308.94 222.52H312.34Z" stroke="#ff0000" stroke-width="0.55" fill="none"/><path d="M312.98 225.99L311.28 223.23H314.68Z" stroke="#ff0000" stroke-width="0.55" fill="none"/><path d="M315.23 226.63L313.53 223.88H316.93Z" stroke="#ff0000" stroke-width="0.55" fill="none"/><path d="M317.41 227.22L315.71 224.46H319.11Z" stroke="#ff0000" stroke-width="0.55" fill="none"/><path d="M319.52 227.74L317.82 224.99H321.22Z" stroke="#ff0000" stroke-width="0.55" fill="none"/><path d="M321.56 228.20L319.86 225.45H323.26Z" stroke="#ff0000" stroke-width="0.55" fill="none"/><path d="M323.54 228.61L321.84 225.85H325.24Z" stroke="#ff0000" stroke-width="0.55" fill="none"/><path d="M325.46 228.96L323.76 226.20H327.16Z" stroke="#ff0000" stroke-width="0.55" fill="none"/><path d="M327.32 229.25L325.62 226.49H329.02Z" stroke="#ff0000" stroke-width="0.55" fill="none"/><path d="M329.13 229.49L327.43 226.73H330.83Z" stroke="#ff0000" stroke-width="0.55" fill="none"/><path d="M330.89 229.67L329.19 226.92H332.59Z" stroke="#ff0000" stroke-width="0.55" fill="none"/><path d="M332.61 229.80L330.91 227.05H334.31Z" stroke="#ff0000" stroke-width="0.55" fill="none"/><path d="M334.28 229.88L332.58 227.13H335.98Z" stroke="#ff0000" stroke-width="0.55" fill="none"/><path d="M335.90 229.91L334.20 227.15H337.60Z" stroke="#ff0000" stroke-width="0.55" fill="none"/></g>
<polyline points="84.16,110.40 86.55,111.51 88.65,112.61 90.74,113.72 92.84,114.83 94.93,115.94 97.03,117.04 99.13,118.15 101.22,119.26 103.32,120.37 105.41,121.47 107.51,122.58 109.60,123.69 111.70,124.79 113.79,125.90 115.89,127.01 117.98,128.12 120.08,129.22 122.17,130.33 124.27,131.44 126.37,132.54 128.46,133.65 130.56,134.76 132.65,135.86 134.75,136.97 136.84,138.07 138.94,139.18 141.03,140.29 143.13,141.39 145.22,142.50 147.32,143.60 149.41,144.71 151.51,145.81 153.61,146.92 155.70,148.02 157.80,149.13 159.89,150.23 161.99,151.33 164.08,152.44 166.18,153.54 168.27,154.64 170.37,155.75 172.46,156.85 174.56,157.95 176.65,159.05 178.75,160.15 180.85,161.26 182.94,162.36 185.04,163.46 187.13,164.55 189.23,165.65 191.32,166.75 193.42,167.85 195.51,168.95 197.61,170.04 199.70,171.14 201.80,172.23 203.89,173.32 205.99,174.42 208.09,175.51 210.18,176.60 212.28,177.69 214.37,178.77 216.47,179.86 218.56,180.95 220.66,182.03 222.75,183.11 224.85,184.19 226.94,185.27 229.04,186.34 231.14,187.42 233.23,188.49 235.33,189.56 237.42,190.63 239.52,191.69 241.61,192.75 243.71,193.81 245.80,194.86 247.90,195.91 249.99,196.96 252.09,198.00 254.18,199.04 256.28,200.07 258.38,201.10 260.47,202.12 262.57,203.14 264.66,204.15 266.76,205.15 268.85,206.15 270.95,207.13 273.04,208.11 275.14,209.09 277.23,210.05 279.33,211.00 281.42,211.94 283.52,212.87 285.62,213.79 287.71,214.69 289.81,215.58 291.90,216.45 294.00,217.31 296.09,218.15 298.19,218.97 300.28,219.77 302.38,220.55 304.47,221.30 306.57,222.03 308.66,222.73 310.76,223.41 312.86,224.05 314.95,224.65 317.05,225.22 319.14,225.74 321.24,226.23 323.33,226.66 325.43,227.05 327.52,227.37 329.62,227.64 331.71,227.84 333.81,227.96 335.90,228.00" fill="none" stroke="#ff0000" stroke-width="0.65"/>
<g><path d="M98.80 118.37L97.20 115.78H100.40Z" fill="#00ff00"/><path d="M143.35 146.70L141.75 144.11H144.95Z" fill="#00ff00"/><path d="M169.41 160.44L167.81 157.84H171.01Z" fill="#00ff00"/><path d="M187.90 170.15L186.30 167.56H189.50Z" fill="#00ff00"/><path d="M202.25 177.66L200.65 175.06H203.85Z" fill="#00ff00"/><path d="M213.97 183.76L212.37 181.16H215.57Z" fill="#00ff00"/><path d="M223.87 188.88L222.27 186.29H225.47Z" fill="#00ff00"/><path d="M232.46 193.29L230.86 190.69H234.06Z" fill="#00ff00"/><path d="M240.03 197.14L238.43 194.55H241.63Z" fill="#00ff00"/><path d="M246.80 200.55L245.20 197.96H248.40Z" fill="#00ff00"/><path d="M252.93 203.61L251.33 201.01H254.53Z" fill="#00ff00"/><path d="M258.52 206.36L256.92 203.77H260.12Z" fill="#00ff00"/><path d="M263.66 208.86L262.06 206.27H265.26Z" fill="#00ff00"/><path d="M268.43 211.14L266.83 208.54H270.03Z" fill="#00ff00"/><path d="M272.86 213.22L271.26 210.63H274.46Z" fill="#00ff00"/><path d="M277.01 215.14L275.41 212.54H278.61Z" fill="#00ff00"/><path d="M280.91 216.90L279.31 214.31H282.51Z" fill="#00ff00"/><path d="M284.58 218.53L282.98 215.94H286.18Z" fill="#00ff00"/><path d="M288.06 220.03L286.46 217.44H289.66Z" fill="#00ff00"/><path d="M291.35 221.42L289.75 218.83H292.95Z" fill="#00ff00"/><path d="M294.49 222.70L292.89 220.11H296.09Z" fill="#00ff00"/><path d="M297.48 223.89L295.88 221.30H299.08Z" fill="#00ff00"/><path d="M300.34 224.98L298.74 222.39H301.94Z" fill="#00ff00"/><path d="M303.07 225.99L301.47 223.40H304.67Z" fill="#00ff00"/><path d="M305.70 226.92L304.10 224.33H307.30Z" fill="#00ff00"/><path d="M308.22 227.78L306.62 225.19H309.82Z" fill="#00ff00"/><path d="M310.64 228.56L309.04 225.97H312.24Z" fill="#00ff00"/><path d="M312.98 229.27L311.38 226.68H314.58Z" fill="#00ff00"/><path d="M315.23 229.92L313.63 227.33H316.83Z" fill="#00ff00"/><path d="M317.41 230.51L315.81 227.91H319.01Z" fill="#00ff00"/><path d="M319.52 231.03L317.92 228.44H321.12Z" fill="#00ff00"/><path d="M321.56 231.49L319.96 228.90H323.16Z" fill="#00ff00"/><path d="M323.54 231.90L321.94 229.30H325.14Z" fill="#00ff00"/><path d="M325.46 232.24L323.86 229.65H327.06Z" fill="#00ff00"/><path d="M327.32 232.54L325.72 229.94H328.92Z" fill="#00ff00"/><path d="M329.13 232.77L327.53 230.18H330.73Z" fill="#00ff00"/><path d="M330.89 232.96L329.29 230.37H332.49Z" fill="#00ff00"/><path d="M332.61 233.09L331.01 230.50H334.21Z" fill="#00ff00"/><path d="M334.28 233.17L332.68 230.58H335.88Z" fill="#00ff00"/><path d="M335.90 233.20L334.30 230.60H337.50Z" fill="#00ff00"/></g>
<polyline points="84.16,113.80 86.55,114.91 88.65,116.01 90.74,117.12 92.84,118.23 94.93,119.34 97.03,120.44 99.13,121.55 101.22,122.66 103.32,123.77 105.41,124.87 107.51,125.98 109.60,127.09 111.70,128.19 113.79,129.30 115.89,130.41 117.98,131.52 120.08,132.62 122.17,133.73 124.27,134.84 126.37,135.94 128.46,137.05 130.56,138.16 132.65,139.26 134.75,140.37 136.84,141.47 138.94,142.58 141.03,143.69 143.13,144.79 145.22,145.90 147.32,147.00 149.41,148.11 151.51,149.21 153.61,150.32 155.70,151.42 157.80,152.53 159.89,153.63 161.99,154.73 164.08,155.84 166.18,156.94 168.27,158.04 170.37,159.15 172.46,160.25 174.56,161.35 176.65,162.45 178.75,163.55 180.85,164.66 182.94,165.76 185.04,166.86 187.13,167.95 189.23,169.05 191.32,170.15 193.42,171.25 195.51,172.35 197.61,173.44 199.70,174.54 201.80,175.63 203.89,176.72 205.99,177.82 208.09,178.91 210.18,180.00 212.28,181.09 214.37,182.17 216.47,183.26 218.56,184.35 220.66,185.43 222.75,186.51 224.85,187.59 226.94,188.67 229.04,189.74 231.14,190.82 233.23,191.89 235.33,192.96 237.42,194.03 239.52,195.09 241.61,196.15 243.71,197.21 245.80,198.26 247.90,199.31 249.99,200.36 252.09,201.40 254.18,202.44 256.28,203.47 258.38,204.50 260.47,205.52 262.57,206.54 264.66,207.55 266.76,208.55 268.85,209.55 270.95,210.53 273.04,211.51 275.14,212.49 277.23,213.45 279.33,214.40 281.42,215.34 283.52,216.27 285.62,217.19 287.71,218.09 289.81,218.98 291.90,219.85 294.00,220.71 296.09,221.55 298.19,222.37 300.28,223.17 302.38,223.95 304.47,224.70 306.57,225.43 308.66,226.13 310.76,226.81 312.86,227.45 314.95,228.05 317.05,228.62 319.14,229.14 321.24,229.63 323.33,230.06 325.43,230.45 327.52,230.77 329.62,231.04 331.71,231.24 333.81,231.36 335.90,231.40" fill="none" stroke="#00ff00" stroke-width="0.65" stroke-dasharray="2.40 1.20"/>
<path d="M371 73.00H379.4" stroke="#ff0000" stroke-width="0.5" fill="none"/>
<path d="M371 89.50H379.4" stroke="#00ff00" stroke-width="0.5" fill="none" stroke-dasharray="2.40 1.20"/>
<path d="M371 106.50H379.4" stroke="#0000ff" stroke-width="0.5" fill="none" stroke-dasharray="1.20 1.80"/>
<path d="M371 122.90H379.4" stroke="#ff00ff" stroke-width="0.5" fill="none" stroke-dasharray="0.60 0.90"/>
<path d="M371 139.50H379.4" stroke="#00ffff" stroke-width="0.5" fill="none" stroke-dasharray="3.60 1.20 0.60 1.20"/>
<path d="M371 156.30H379.4" stroke="#000000" stroke-width="0.5" fill="none" stroke-dasharray="1.20 1.20 1.20 3.60"/>
<path d="M371 172.90H379.4" stroke="#ff4d00" stroke-width="0.5" fill="none" stroke-dasharray="0.60 1.20 3.60 1.20 0.60 1.20"/>
<path d="M371 189.50H379.4" stroke="#808080" stroke-width="0.5" fill="none" stroke-dasharray="1.20 1.20 1.20 1.20 1.20 1.20 1.20 2.40"/>
<path d="M371 206.40H379.4" stroke="#ff0000" stroke-width="0.5" fill="none"/>
<path d="M371 222.50H379.4" stroke="#00ff00" stroke-width="0.5" fill="none" stroke-dasharray="2.40 1.20"/>
<rect x="84.5" y="16.5" width="310.0" height="230.0" fill="none" stroke="#222" stroke-width="1.1" stroke-linejoin="round"/>
<path d="M91.50 246.5v-1.8M98.50 246.5v-3.5M143.50 246.5v-1.8M169.50 246.5v-1.8M187.50 246.5v-1.8M201.50 246.5v-1.8M213.50 246.5v-1.8M223.50 246.5v-1.8M232.50 246.5v-1.8M239.50 246.5v-1.8M246.50 246.5v-3.5M291.50 246.5v-1.8M317.50 246.5v-1.8M335.50 246.5v-1.8M349.50 246.5v-1.8M361.50 246.5v-1.8M371.50 246.5v-1.8M380.50 246.5v-1.8M387.50 246.5v-1.8M84.5 236.50h1.8M394.5 236.50h-1.8M84.5 228.50h1.8M394.5 228.50h-1.8M84.5 221.50h3.5M394.5 221.50h-3.5M84.5 171.50h1.8M394.5 171.50h-1.8M84.5 142.50h1.8M394.5 142.50h-1.8M84.5 122.50h1.8M394.5 122.50h-1.8M84.5 106.50h1.8M394.5 106.50h-1.8M84.5 93.50h1.8M394.5 93.50h-1.8M84.5 82.50h1.8M394.5 82.50h-1.8M84.5 72.50h1.8M394.5 72.50h-1.8M84.5 64.50h1.8M394.5 64.50h-1.8M84.5 57.50h3.5M394.5 57.50h-3.5" stroke="#111" stroke-width="0.9" fill="none"/>
<g font-family="Liberation Sans, sans-serif" font-size="13.5" fill="#000" style="filter:grayscale(1)"><text transform="translate(74.8 62.3) scale(1 1.07)" text-anchor="end" font-size="13.5">0.1</text><text transform="translate(74.8 226.3) scale(1 1.07)" text-anchor="end" font-size="13.5">0.01</text><text transform="translate(100.0 265.2) scale(1 1.07)" text-anchor="middle" font-size="13.5">1</text><text transform="translate(248.6 265.2) scale(1 1.07)" text-anchor="middle" font-size="13.5">10</text><text transform="translate(396.2 265.2) scale(1 1.07)" text-anchor="middle" font-size="13.5">100</text><text transform="translate(239.5 285.9) scale(1 1.03)" text-anchor="middle" font-size="13.8">x</text><text transform="translate(24.3 131.6) rotate(-90) scale(1 0.98)" text-anchor="middle" font-size="14.2">B(x,y)</text><text transform="translate(387.8 49.3) scale(1 1.04)" text-anchor="end" font-size="13.7">Gutzwiller</text><text transform="translate(362.8 77.4) scale(1 1.07)" text-anchor="end" font-size="13.5">y = 1</text><text transform="translate(362.8 94.0) scale(1 1.07)" text-anchor="end" font-size="13.5">2</text><text transform="translate(362.8 110.6) scale(1 1.07)" text-anchor="end" font-size="13.5">3</text><text transform="translate(362.8 127.2) scale(1 1.07)" text-anchor="end" font-size="13.5">4</text><text transform="translate(362.8 143.8) scale(1 1.07)" text-anchor="end" font-size="13.5">5</text><text transform="translate(362.8 160.4) scale(1 1.07)" text-anchor="end" font-size="13.5">6</text><text transform="translate(362.8 177.0) scale(1 1.07)" text-anchor="end" font-size="13.5">7</text><text transform="translate(362.8 193.6) scale(1 1.07)" text-anchor="end" font-size="13.5">8</text><text transform="translate(362.8 210.2) scale(1 1.07)" text-anchor="end" font-size="13.5">9</text><text transform="translate(362.8 226.8) scale(1 1.07)" text-anchor="end" font-size="13.5">10</text></g>
</svg>
</body></html>
